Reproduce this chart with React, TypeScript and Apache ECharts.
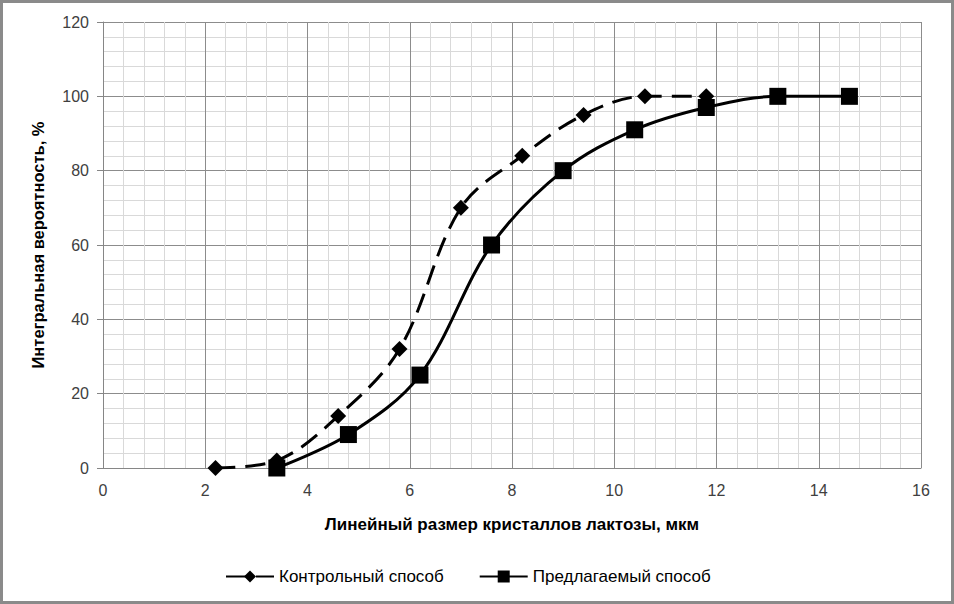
import React, { useEffect, useRef } from "react";
import * as echarts from "echarts";

const controlX = [2.2, 3.4, 4.6, 5.8, 7.0, 8.2, 9.4, 10.6, 11.8];
const controlY = [0, 2, 14, 32, 70, 84, 95, 100, 100];
const proposedX = [3.4, 4.8, 6.2, 7.6, 9.0, 10.4, 11.8, 13.2, 14.6];
const proposedY = [0, 9, 25, 60, 80, 91, 97, 100, 100];
const seriesNames = ["Контрольный способ", "Предлагаемый способ"];
const xTitle = "Линейный размер кристаллов лактозы, мкм";
const yTitle = "Интегральная вероятность, %";

export default function App() {
  const ref = useRef<HTMLDivElement>(null);
  useEffect(() => {
    if (!ref.current) return;
    const chart = echarts.init(ref.current, null, { renderer: "svg" });
    const font = "'Liberation Sans', Arial, sans-serif";
    chart.setOption({
      animation: false,
      backgroundColor: "#ffffff",
      textStyle: { fontFamily: font },
      grid: { left: 103, right: 33, top: 22, bottom: 136, containLabel: false },
      graphic: [
        {
          type: "rect",
          shape: { x: 1.5, y: 1.5, width: 951, height: 601 },
          style: { fill: "none", stroke: "#8a8a8a", lineWidth: 3 },
          silent: true,
        },
      ],
      legend: {
        bottom: 14,
        left: 220,
        itemGap: 35,
        itemWidth: 48,
        itemHeight: 15,
        textStyle: { fontSize: 17, color: "#000", fontFamily: font },
        data: seriesNames,
      },
      xAxis: {
        type: "value",
        min: 0,
        max: 16,
        interval: 2,
        name: xTitle,
        nameLocation: "middle",
        nameGap: 48,
        nameTextStyle: { fontSize: 17, fontWeight: "bold", color: "#000" },
        axisLine: { show: true, lineStyle: { color: "#868686", width: 1 } },
        axisTick: { show: false },
        axisLabel: { fontSize: 16, color: "#404040", margin: 14 },
        splitLine: { show: true, lineStyle: { color: "#8c8c8c", width: 1 } },
        minorTick: { show: false, splitNumber: 5 },
        minorSplitLine: { show: true, lineStyle: { color: "#d9d9d9", width: 1 } },
      },
      yAxis: {
        type: "value",
        min: 0,
        max: 120,
        interval: 20,
        name: yTitle,
        nameLocation: "middle",
        nameGap: 57,
        nameTextStyle: { fontSize: 16.5, fontWeight: "bold", color: "#000" },
        axisLine: { show: true, lineStyle: { color: "#868686", width: 1 } },
        axisTick: { show: true, length: 6, lineStyle: { color: "#868686" } },
        axisLabel: { fontSize: 16, color: "#404040", margin: 14 },
        splitLine: { show: true, lineStyle: { color: "#8c8c8c", width: 1 } },
        minorTick: { show: false, splitNumber: 5 },
        minorSplitLine: { show: true, lineStyle: { color: "#d9d9d9", width: 1 } },
      },
      series: [
        {
          name: seriesNames[0],
          type: "line",
          smooth: 0.35,
          data: controlX.map((x, i) => [x, controlY[i]]),
          symbol: "diamond",
          symbolSize: 16,
          itemStyle: { color: "#000" },
          lineStyle: { color: "#000", width: 3, type: [20, 10] },
          z: 3,
        },
        {
          name: seriesNames[1],
          type: "line",
          smooth: 0.35,
          data: proposedX.map((x, i) => [x, proposedY[i]]),
          symbol: "rect",
          symbolSize: 17,
          itemStyle: { color: "#000" },
          lineStyle: { color: "#000", width: 3 },
          z: 4,
        },
      ],
    });
    return () => chart.dispose();
  }, []);
  return (
    <div
      ref={ref}
      style={{ position: "fixed", left: 0, top: 0, width: 954, height: 604 }}
    />
  );
}
